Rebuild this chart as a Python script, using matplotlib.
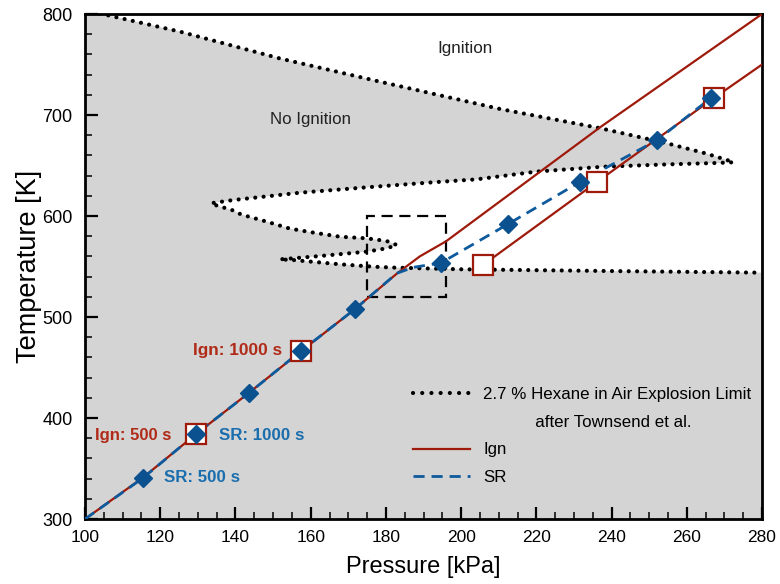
import matplotlib
matplotlib.use("Agg")
import matplotlib.pyplot as plt
from matplotlib.lines import Line2D
from matplotlib.patches import Rectangle
from matplotlib.ticker import MultipleLocator

plt.rcParams['font.family'] = ['Liberation Sans', 'DejaVu Sans']

# explosion limit (Townsend et al.), traced as one continuous path
lim_p = [104.0, 125.3, 151.8, 178.4, 210.3, 236.9, 254.7, 265.0, 271.5, 272.4,
         268.0, 255.5, 237.8, 220.1, 204.1, 192.6, 174.9, 157.2, 139.4, 134.1,
         133.5, 134.5, 139.4, 141.5, 148.3, 154.5, 160.0, 167.8, 174.9, 180.2, 182.9,
         180.2, 174.9, 163.4, 157.2, 151.8,
         155.4, 167.8, 176.7, 182.9, 200.5, 240.0, 280.0]
lim_t = [800.5, 782.5, 756.0, 733.0, 706.0, 687.0, 672.0, 662.0, 654.5, 653.2,
         652.5, 651.2, 648.8, 644.0, 636.3, 633.4, 628.4, 623.1, 615.8, 613.0,
         612.5, 611.0, 605.5, 601.5, 594.4, 587.5, 584.0, 579.5, 577.9, 575.2, 571.3,
         568.0, 564.7, 560.7, 558.7, 557.1,
         556.4, 552.2, 549.8, 548.8, 547.2, 545.5, 543.9]

# ignition curve (two branches)
ign_p1 = [100.0, 115.4, 129.5, 143.6, 157.4, 171.8, 182.9, 189.0, 196.0, 237.0, 280.0]
ign_t1 = [300.0, 341.0, 384.0, 425.0, 466.0, 508.0, 543.0, 560.0, 575.0, 688.0, 800.0]
ign_p2 = [205.8, 236.1, 267.2, 280.0]
ign_t2 = [551.5, 633.7, 716.8, 750.0]
ign_mark_p = [129.5, 157.4, 205.8, 236.1, 267.2]
ign_mark_t = [384.0, 466.0, 551.5, 633.7, 716.8]

# self-reaction curve
sr_p = [100.0, 115.4, 129.5, 143.6, 157.4, 171.8, 182.9, 187.3, 194.6, 212.5, 231.6, 252.1, 266.4]
sr_t = [300.0, 340.6, 384.2, 424.8, 466.3, 507.9, 543.3, 549.2, 553.5, 592.1, 633.7, 675.2, 716.8]
sr_mark_p = [115.4, 129.5, 143.6, 157.4, 171.8, 194.6, 212.5, 231.6, 252.1, 266.4]
sr_mark_t = [340.6, 384.2, 424.8, 466.3, 507.9, 553.5, 592.1, 633.7, 675.2, 716.8]

red = '#9e1a0a'
red_txt = '#b02a17'
blue = '#0b5190'
blue_line = '#0d5a9c'
blue_txt = '#1b6eae'
grey = '#d4d4d4'
dots = (0, (0.01, 2.0))

fig = plt.figure(figsize=(7.8, 5.84), dpi=100)
ax = fig.add_axes([0.109, 0.1113, 0.868, 0.8647])

# no-ignition region: everything left/below the limit curve
ax.fill([100.0] + lim_p + [280.0, 100.0], [800.5] + lim_t + [300.0, 300.0],
        color=grey, lw=0, zorder=0)
ax.plot(lim_p, lim_t, color='black', lw=3.0, linestyle=dots,
        dash_capstyle='round', zorder=2)

ax.add_patch(Rectangle((175, 520), 21, 80, fill=False, ec='black', lw=1.6,
                       linestyle=(0, (5, 3)), zorder=3))

ax.plot(ign_p1, ign_t1, color=red, lw=1.6, zorder=3)
ax.plot(ign_p2, ign_t2, color=red, lw=1.6, zorder=3)
ax.plot(sr_p, sr_t, color=blue_line, lw=2.0, linestyle=(0, (4, 2.5)), zorder=4)
ax.plot(ign_mark_p, ign_mark_t, 's', ms=15, mfc='white', mec=red, mew=1.6,
        ls='none', zorder=5)
ax.plot(sr_mark_p, sr_mark_t, 'D', ms=9.5, mfc=blue, mec=blue, ls='none', zorder=6)

ax.text(201, 766, 'Ignition', ha='center', va='center', fontsize=12.3, color='#222222')
ax.text(160, 696, 'No Ignition', ha='center', va='center', fontsize=12.2, color='#222222')

ax.text(152.4, 467, 'Ign: 1000 s', ha='right', va='center', fontsize=12.4,
        fontweight='bold', color=red_txt)
ax.text(122.9, 382.5, 'Ign: 500 s', ha='right', va='center', fontsize=12.0,
        fontweight='bold', color=red_txt)
ax.text(135.6, 382.5, 'SR: 1000 s', ha='left', va='center', fontsize=12.2,
        fontweight='bold', color=blue_txt)
ax.text(121.0, 340.6, 'SR: 500 s', ha='left', va='center', fontsize=12.2,
        fontweight='bold', color=blue_txt)

handles = [
    Line2D([], [], color='black', lw=3.0, linestyle=(0, (0.01, 2.2)), dash_capstyle='round'),
    Line2D([], [], color='none'),
    Line2D([], [], color=red, lw=1.6),
    Line2D([], [], color=blue_line, lw=2.0, linestyle=(0, (4, 2.5))),
]
labels = ['2.7 % Hexane in Air Explosion Limit',
          '           after Townsend et al.',
          'Ign', 'SR']
ax.legend(handles, labels, loc='upper left', bbox_to_anchor=(0.4845, 0.262),
          frameon=False, fontsize=12.2, handlelength=3.37, handletextpad=0.77,
          labelspacing=0.76, borderpad=0, borderaxespad=0)

ax.set_xlim(100, 280)
ax.set_ylim(300, 800)
ax.xaxis.set_major_locator(MultipleLocator(20))
ax.xaxis.set_minor_locator(MultipleLocator(5))
ax.yaxis.set_major_locator(MultipleLocator(100))
ax.yaxis.set_minor_locator(MultipleLocator(20))
ax.tick_params(which='both', direction='in', top=False, right=False)
ax.tick_params(which='major', length=9, width=1.6)
ax.tick_params(which='minor', length=5, width=1.1)
ax.tick_params(axis='x', labelsize=12.5, pad=8)
ax.tick_params(axis='y', labelsize=13, pad=9)
for sp in ax.spines.values():
    sp.set_linewidth(2.0)

ax.set_xlabel('Pressure [kPa]', fontsize=17, labelpad=8)
ax.set_ylabel('Temperature [K]', fontsize=19.5, labelpad=0)

fig.savefig('out.png', dpi=100)
